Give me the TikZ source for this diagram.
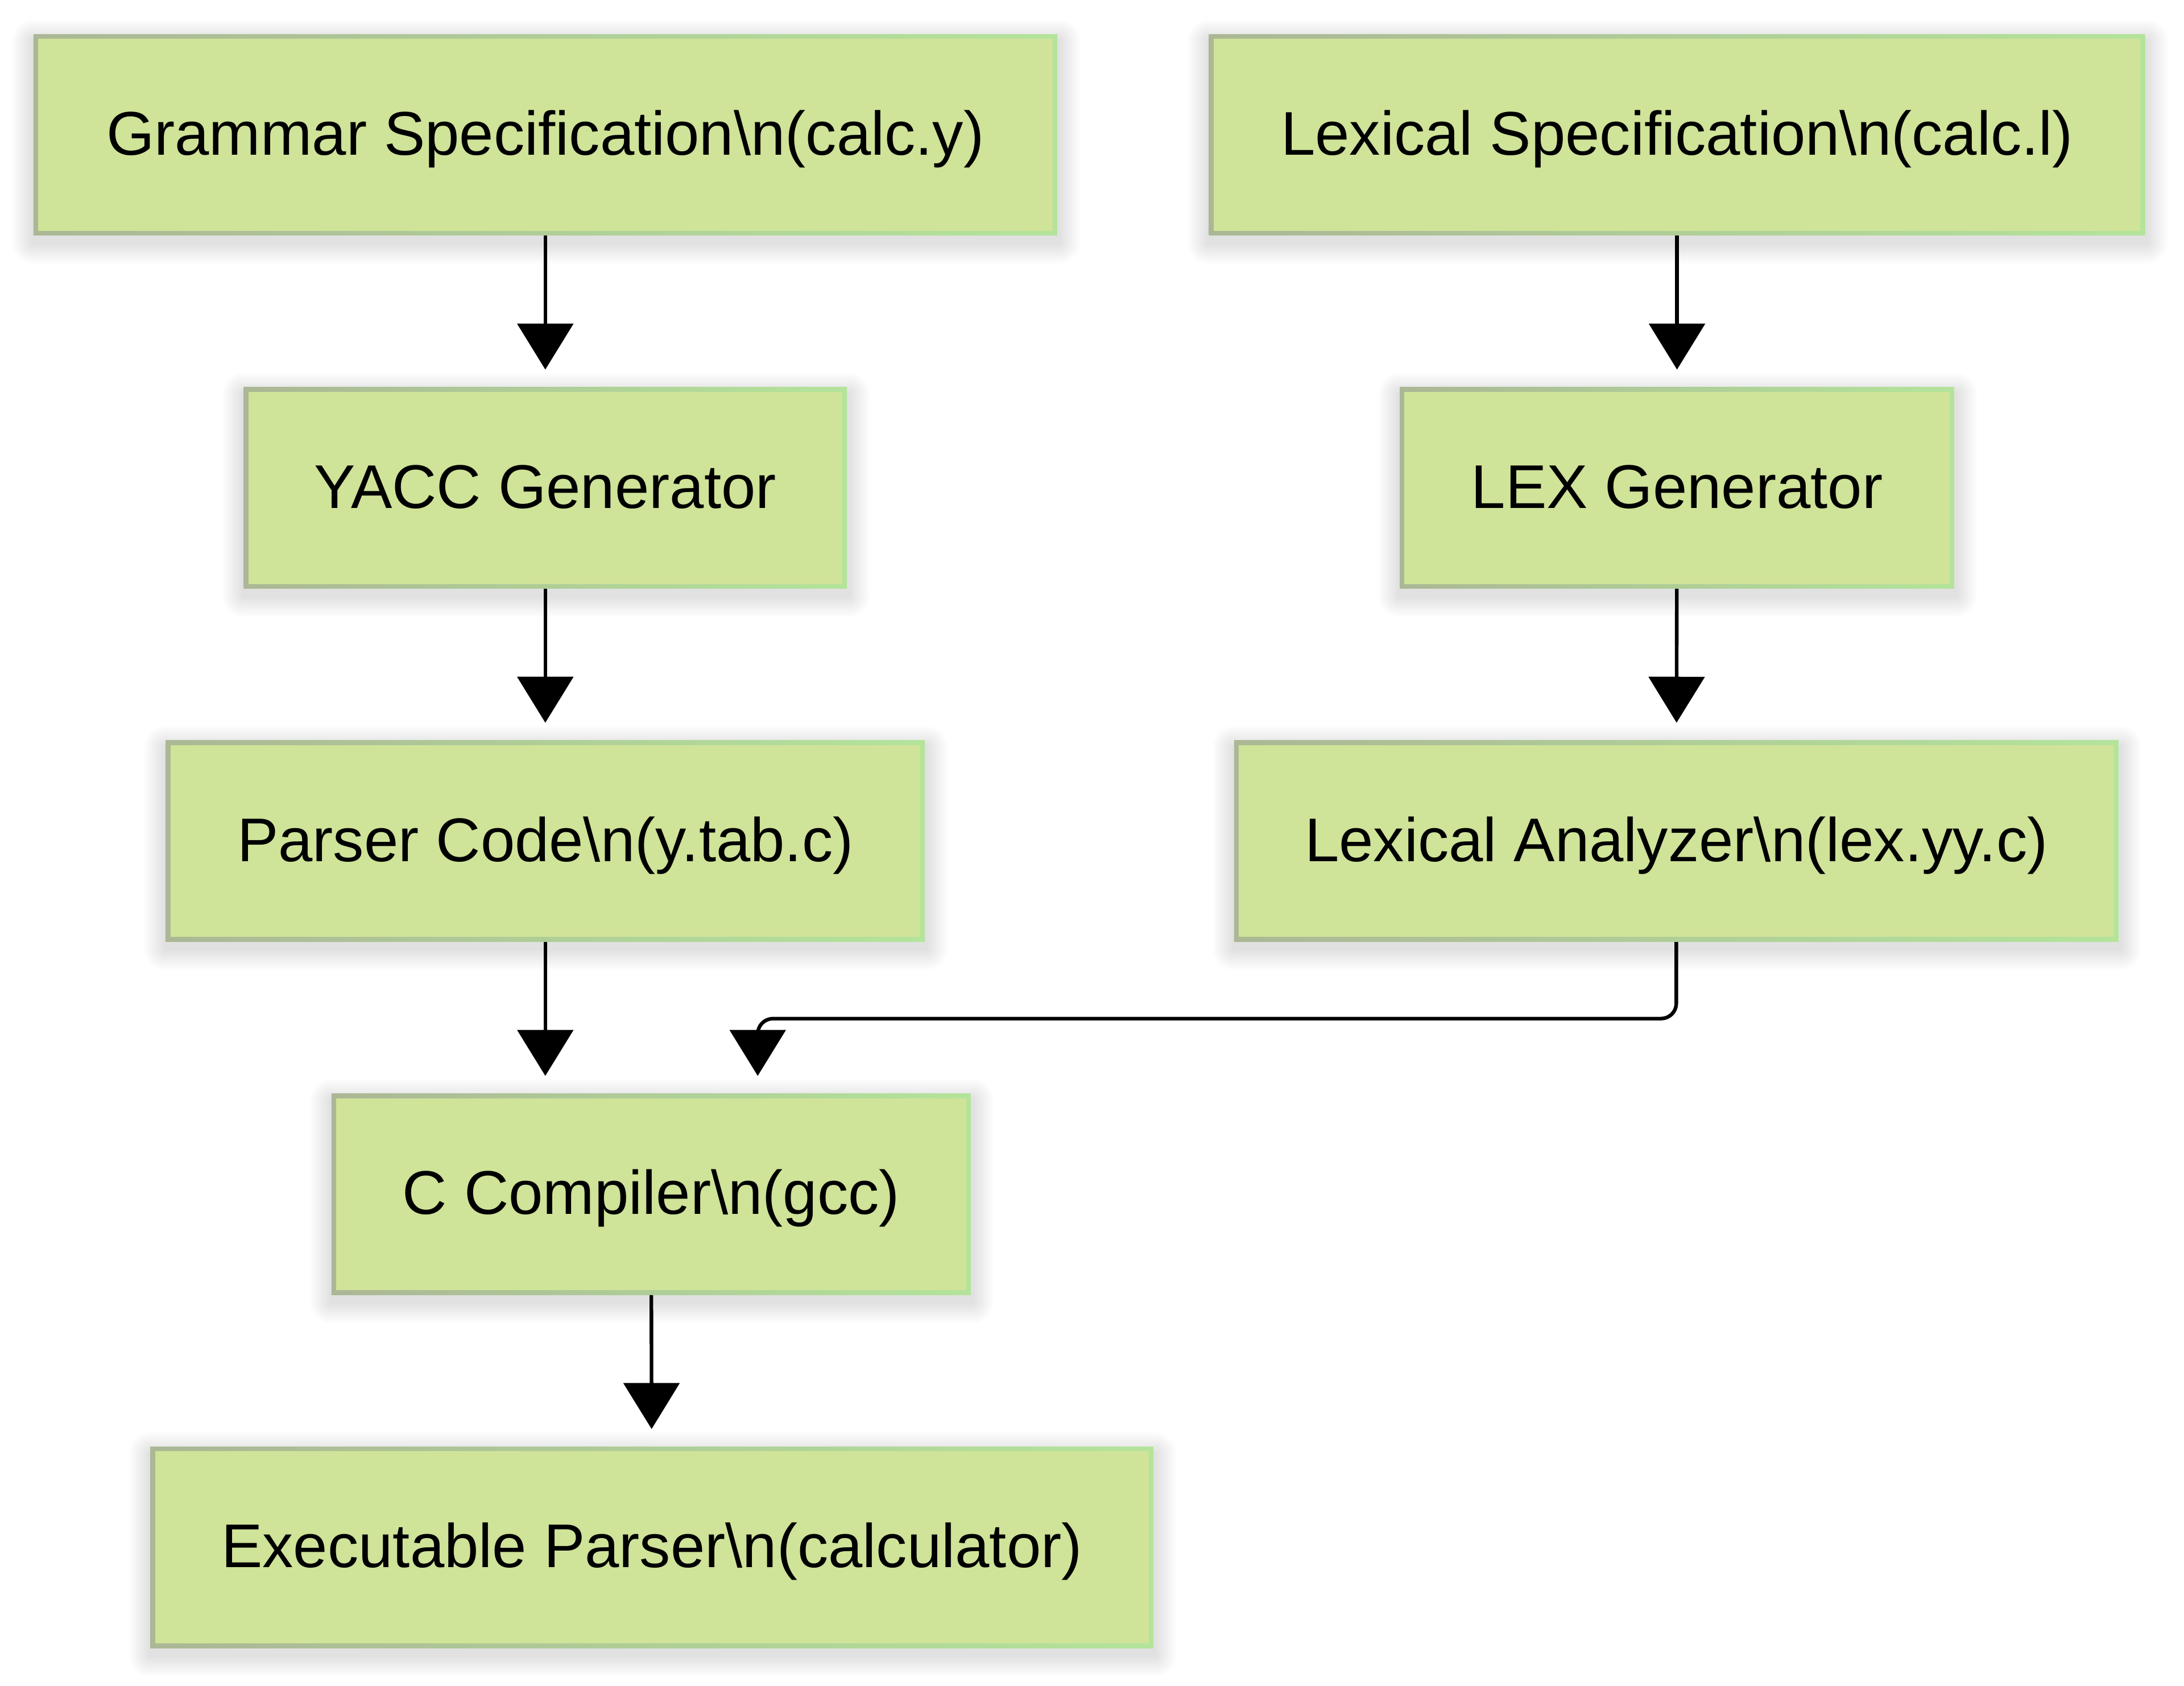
\documentclass[tikz,border=0pt]{standalone}
\usepackage{fontspec}
\setmainfont{Liberation Sans}
\usetikzlibrary{arrows.meta,backgrounds}
\definecolor{boxfill}{RGB}{207,227,153}
\definecolor{bordL}{RGB}{171,183,149}
\definecolor{bordR}{RGB}{179,228,154}
\tikzset{
  box/.style={rectangle, inner sep=0pt, minimum height=144.5pt,
    text height=33pt, text depth=4pt,
    font=\fontsize{44.3}{52}\selectfont,
    left color=bordL, right color=bordR,
    path picture={\fill[boxfill] ([shift={(3.3pt,3.3pt)}]path picture bounding box.south west) rectangle ([shift={(-3.3pt,-3.3pt)}]path picture bounding box.north east);}},
  shadowlayer/.style={fill=black, opacity=0.011},
  conn/.style={draw=black, line width=2.6pt, -{Triangle[width=40pt,length=33pt]}, shorten >=12.5pt}
}
\begin{document}
\begin{tikzpicture}[x=1pt,y=-1pt]
\useasboundingbox (0,0) rectangle (1568,1210);
\node[box, minimum width=735pt] (gs) at (391.5,96.75) {Grammar Specification\textbackslash n(calc.y)};
\node[box, minimum width=672pt] (ls) at (1204,96.75) {Lexical Specification\textbackslash n(calc.l)};
\node[box, minimum width=433pt] (yg) at (391.5,350.25) {YACC Generator};
\node[box, minimum width=398pt] (lg) at (1204,350.25) {LEX Generator};
\node[box, minimum width=545pt] (pc) at (391.5,603.75) {Parser Code\textbackslash n(y.tab.c)};
\node[box, minimum width=635pt] (la) at (1203.5,603.75) {Lexical Analyzer\textbackslash n(lex.yy.c)};
\node[box, minimum width=459pt] (cc) at (467.5,857.25) {C Compiler\textbackslash n(gcc)};
\node[box, minimum width=720pt] (ex) at (468,1110.75) {Executable Parser\textbackslash n(calculator)};
\begin{scope}[on background layer]
\fill[white] (0,0) rectangle (1568,1210);
\foreach \n in {gs,ls,yg,lg,pc,la,cc,ex}{
  \foreach \r in {1.5,3,...,15}{
    \fill[shadowlayer, rounded corners=\r pt]
      ([shift={({-\r pt},{-\r pt-5pt})}]\n.south west) rectangle
      ([shift={({\r pt+1pt},{\r pt-5pt})}]\n.north east);
  }
}
\end{scope}
\draw[conn] (gs) -- (yg);
\draw[conn] (ls) -- (lg);
\draw[conn] (yg) -- (pc);
\draw[conn] (lg) -- (la);
\draw[conn] (pc.south) -- (pc.south |- cc.north);
\draw[conn, rounded corners=11pt] (la.south) -- ++(0,55) -| ([xshift=76.5pt]cc.north);
\draw[conn] (cc) -- (ex);
\end{tikzpicture}
\end{document}
